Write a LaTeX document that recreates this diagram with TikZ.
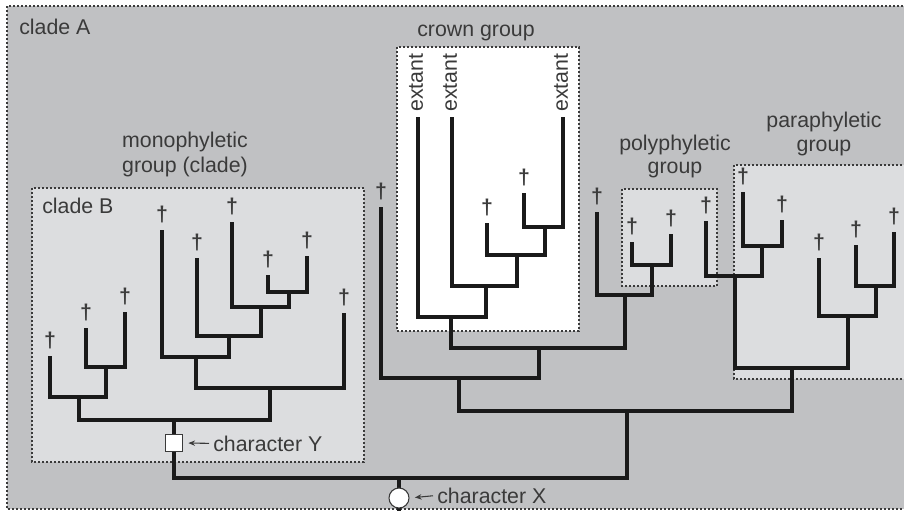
\documentclass[tikz,border=0pt]{standalone}
\usepackage{fontspec}
\setmainfont{Liberation Sans}
\usetikzlibrary{arrows.meta}
\definecolor{bgA}{HTML}{C0C1C3}
\definecolor{bgB}{HTML}{DCDDDF}
\definecolor{ink}{HTML}{1A1A1A}
\definecolor{txt}{HTML}{3A3A3A}
\begin{document}
\begin{tikzpicture}[x=0.75pt,y=-0.75pt,
  groupbox/.style={draw=txt, dash pattern=on 1.5pt off 1.5pt, line width=0.9pt},
  branch/.style={draw=ink, line width=2.4pt},
  dag/.style={text=ink!85, inner sep=0pt, font=\bfseries\fontsize{16}{19}\selectfont},
  lbl/.style={text=txt, inner sep=0pt, anchor=base, font=\fontsize{16}{19}\selectfont},
  ext/.style={text=txt, inner sep=0pt, rotate=90, anchor=west, font=\fontsize{16}{19}\selectfont},
  arr/.style={draw=txt, line width=0.8pt, -{Stealth[length=5pt,width=4pt]}}]
\useasboundingbox (0,0) rectangle (904,511);
\fill[white] (0,0) rectangle (904,511);
% group boxes
\path[groupbox, fill=bgA] (7,6) rectangle (920,509);
\path[groupbox, fill=bgB] (32,188) rectangle (364,462);
\path[groupbox, fill=white] (397,47) rectangle (579,331);
\path[groupbox, fill=bgB] (622,189) rectangle (717,286);
\path[groupbox, fill=bgB] (734,165) rectangle (920,379);
% clade B tree
\coordinate (L1) at (50,356);
\coordinate (L2) at (86,328);
\coordinate (L3) at (125,312);
\coordinate (b3) at (106,367);
\coordinate (b2) at (79,397);
\coordinate (bY) at (174,420);
\coordinate (bR) at (270,388);
\coordinate (bR1) at (196,357);
\coordinate (L4) at (162,230);
\coordinate (bR2) at (229,336);
\coordinate (L5) at (197,258);
\coordinate (bR3) at (261,307);
\coordinate (L6) at (232,222);
\coordinate (bR4) at (289,292);
\coordinate (L7) at (268,275);
\coordinate (L8) at (307,256);
\coordinate (L9) at (344,313);
% rest of tree
\coordinate (r0) at (399,478);
\coordinate (rbot) at (399,511);
\coordinate (rR) at (627,411);
\coordinate (rA) at (459,378);
\coordinate (L10) at (381,207);
\coordinate (rB) at (539,348);
\coordinate (cr) at (451,317);
\coordinate (E1) at (418,117);
\coordinate (c2) at (486,286);
\coordinate (E2) at (452,117);
\coordinate (c3) at (517,255);
\coordinate (L11) at (487,223);
\coordinate (c4) at (545,227);
\coordinate (L12) at (524,193);
\coordinate (E3) at (563,117);
\coordinate (rC) at (625,295);
\coordinate (L13) at (597,212);
\coordinate (po) at (652,265);
\coordinate (L14) at (632,242);
\coordinate (L15) at (671,234);
\coordinate (rP) at (792,368);
\coordinate (pA) at (735,276);
\coordinate (L16) at (706,221);
\coordinate (pA2) at (762,246);
\coordinate (L17) at (743,192);
\coordinate (L18) at (782,220);
\coordinate (pB) at (848,316);
\coordinate (L19) at (819,258);
\coordinate (pB2) at (876,286);
\coordinate (L20) at (856,245);
\coordinate (L21) at (894,232);
\foreach \p/\c in {b3/L2, b3/L3, b2/L1, b2/b3, bY/b2, bY/bR, bR/bR1, bR/L9,
  bR1/L4, bR1/bR2, bR2/L5, bR2/bR3, bR3/L6, bR3/bR4, bR4/L7, bR4/L8,
  r0/bY, r0/rR, rR/rA, rR/rP, rA/L10, rA/rB, rB/cr, rB/rC, cr/E1, cr/c2,
  c2/E2, c2/c3, c3/L11, c3/c4, c4/L12, c4/E3, rC/L13, rC/po, po/L14, po/L15,
  rP/pA, rP/pB, pA/L16, pA/pA2, pA2/L17, pA2/L18, pB/L19, pB/pB2, pB2/L20, pB2/L21}
  \draw[branch] (\p) -| (\c);
\draw[branch] (r0) -- (rbot);
% daggers
\foreach \l in {L1,L2,L3,L4,L5,L6,L7,L8,L9,L10,L11,L12,L13,L14,L15,L16,L17,L18,L19,L20,L21}
  \node[dag] (d\l) at ([yshift=12pt]\l) {†};
% extant labels
\node[ext] (x1) at (416,112) {extant};
\node[ext] (x2) at (450,112) {extant};
\node[ext] (x3) at (561,112) {extant};
% characters
\node[draw=txt, line width=0.8pt, fill=white, minimum size=12.75pt, inner sep=0pt] (chY) at (174,443) {};
\node[circle, draw=txt, line width=0.8pt, fill=white, minimum size=15pt, inner sep=0pt] (chX) at (399,498) {};
\node[lbl, anchor=base west] (tY) at (213,451) {character Y};
\node[lbl, anchor=base west] (tX) at (437,503) {character X};
\draw[arr, shorten <=3pt, shorten >=4pt] (tY.west) -- (chY.east);
\draw[arr, shorten <=3pt, shorten >=4pt] (tX.west) -- (chX.east);
% group labels
\node[lbl, anchor=base west] (tA) at (19,34) {clade A};
\node[lbl, anchor=base west] (tB) at (42,213) {clade B};
\node[lbl] (m1) at (185,147) {monophyletic};
\node[lbl] (m2) at (185,172) {group (clade)};
\node[lbl] (cg) at (476,36) {crown group};
\node[lbl] (p1) at (675,150) {polyphyletic};
\node[lbl] (p2) at (675,173) {group};
\node[lbl] (q1) at (824,127) {paraphyletic};
\node[lbl] (q2) at (824,151) {group};
\end{tikzpicture}
\end{document}
